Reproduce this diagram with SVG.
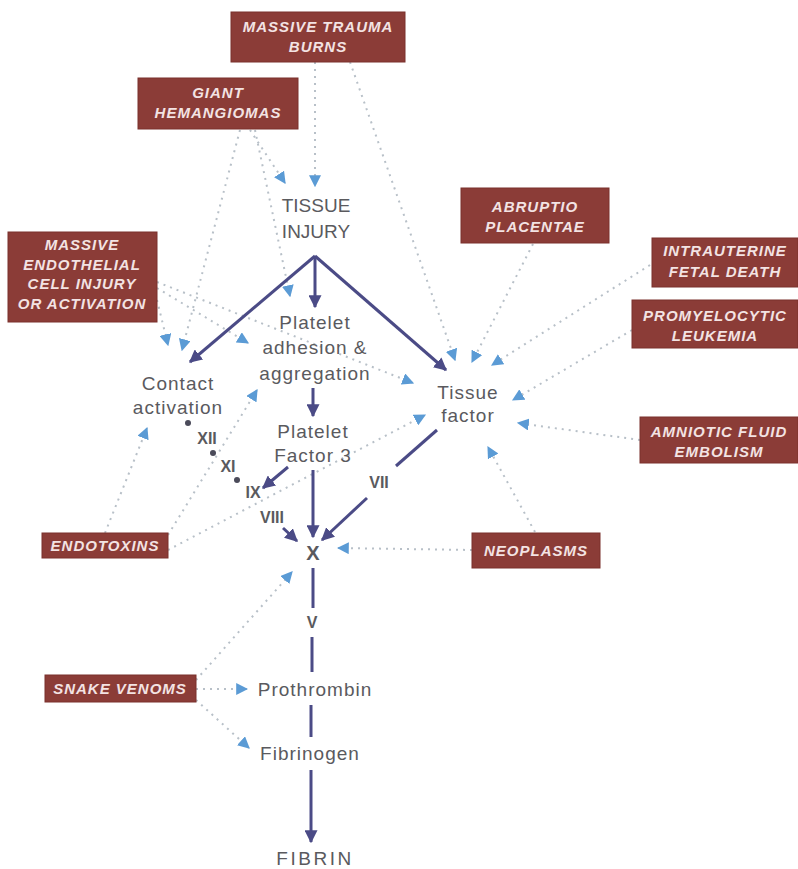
<svg xmlns="http://www.w3.org/2000/svg" width="798" height="869" viewBox="0 0 798 869">
<defs>
<marker id="ab" viewBox="0 0 10 10" refX="9" refY="5" markerWidth="12" markerHeight="12" markerUnits="userSpaceOnUse" orient="auto"><path d="M0,0 L10,5 L0,10 z" fill="#5b9bd5"/></marker>
<marker id="as" viewBox="0 0 10 10" refX="9" refY="5" markerWidth="13" markerHeight="13" markerUnits="userSpaceOnUse" orient="auto"><path d="M0,0 L10,5 L0,10 z" fill="#4b4b86"/></marker>
</defs>
<style>
.box{fill:#8b3c37;stroke:#7a302c;stroke-width:1}
.bt{font-family:"Liberation Sans",Arial,sans-serif;font-style:italic;font-weight:bold;font-size:15px;letter-spacing:1px;fill:#f3e3e3;text-anchor:middle}
.lt{font-family:"Liberation Sans",Arial,sans-serif;font-size:19px;letter-spacing:1px;fill:#5a5a5e;text-anchor:middle}
.ut{font-family:"Liberation Sans",Arial,sans-serif;font-size:19px;fill:#5a5a5e;text-anchor:middle}
.rt{font-family:"Liberation Sans",Arial,sans-serif;font-size:16px;font-weight:bold;fill:#5a5a5e;text-anchor:middle}
.d{fill:none;stroke:#b8c0c8;stroke-width:2;stroke-dasharray:2 5;marker-end:url(#ab)}
.s{fill:none;stroke:#4b4b86;stroke-width:3}
.sa{fill:none;stroke:#4b4b86;stroke-width:3;marker-end:url(#as)}
</style>
<rect width="798" height="869" fill="#ffffff"/>
<g id="connectors">
<path class="d" d="M315,62 L315,186"/>
<path class="d" d="M350,62 L455,360"/>
<path class="d" d="M250,130 L285,183"/>
<path class="d" d="M255,130 L290,296"/>
<path class="d" d="M240,130 L182,350"/>
<path class="d" d="M157,300 L168,345"/>
<path class="d" d="M157,288 L248,343"/>
<path class="d" d="M157,282 L413,383"/>
<path class="d" d="M533,244 L472,362"/>
<path class="d" d="M650,265 L492,365"/>
<path class="d" d="M632,330 L513,400"/>
<path class="d" d="M640,440 L518,423"/>
<path class="d" d="M535,532 L488,447"/>
<path class="d" d="M472,550 L338,548"/>
<path class="d" d="M105,533 L147,428"/>
<path class="d" d="M168,535 L257,390"/>
<path class="d" d="M168,550 L425,415"/>
<path class="d" d="M196,680 L292,572"/>
<path class="d" d="M196,689 L247,689"/>
<path class="d" d="M196,700 L249,748"/>
<path class="sa" d="M315,256 L190,362"/>
<path class="sa" d="M315,256 L315,307"/>
<path class="sa" d="M315,256 L446,370"/>
<path class="sa" d="M313,388 L313,416"/>
<path class="sa" d="M288,467 L263,488"/>
<path class="sa" d="M313,470 L313,537"/>
<path class="s" d="M437,430 L396,466"/>
<path class="sa" d="M367,498 L322,540"/>
<path class="sa" d="M283,528 L297,541"/>
<circle cx="188" cy="423" r="3" fill="#4b4b5a"/>
<circle cx="213" cy="453" r="3" fill="#4b4b5a"/>
<circle cx="237" cy="480" r="3" fill="#4b4b5a"/>
<path class="s" d="M313,568 L313,608"/>
<path class="s" d="M312,637 L312,672"/>
<path class="s" d="M311,705 L311,737"/>
<path class="sa" d="M311,770 L311,842"/>
</g>
<g id="massive-trauma"><rect class="box" x="231" y="12" width="174" height="50"/><text class="bt" x="318" y="32">MASSIVE TRAUMA</text><text class="bt" x="318" y="52">BURNS</text></g>
<g id="giant-hemangiomas"><rect class="box" x="138" y="78" width="160" height="51"/><text class="bt" x="218" y="98">GIANT</text><text class="bt" x="218" y="118">HEMANGIOMAS</text></g>
<g id="endothelial"><rect class="box" x="8" y="232" width="149" height="90"/><text class="bt" x="82" y="250">MASSIVE</text><text class="bt" x="82" y="270">ENDOTHELIAL</text><text class="bt" x="82" y="289">CELL INJURY</text><text class="bt" x="82" y="309">OR ACTIVATION</text></g>
<g id="abruptio"><rect class="box" x="461" y="188" width="148" height="55"/><text class="bt" x="535" y="212">ABRUPTIO</text><text class="bt" x="535" y="232">PLACENTAE</text></g>
<g id="fetal-death"><rect class="box" x="652" y="238" width="146" height="49"/><text class="bt" x="725" y="256">INTRAUTERINE</text><text class="bt" x="725" y="277">FETAL DEATH</text></g>
<g id="promyelocytic"><rect class="box" x="632" y="300" width="166" height="48"/><text class="bt" x="715" y="321">PROMYELOCYTIC</text><text class="bt" x="715" y="341">LEUKEMIA</text></g>
<g id="amniotic"><rect class="box" x="640" y="417" width="158" height="46"/><text class="bt" x="719" y="437">AMNIOTIC FLUID</text><text class="bt" x="719" y="457">EMBOLISM</text></g>
<g id="neoplasms"><rect class="box" x="472" y="533" width="128" height="35"/><text class="bt" x="536" y="556">NEOPLASMS</text></g>
<g id="endotoxins"><rect class="box" x="42" y="533" width="126" height="25"/><text class="bt" x="105" y="551">ENDOTOXINS</text></g>
<g id="snake-venoms"><rect class="box" x="45" y="675" width="151" height="27"/><text class="bt" x="120" y="694">SNAKE VENOMS</text></g>
<g id="tissue-injury"><text class="ut" x="316" y="212">TISSUE</text><text class="ut" x="316" y="238">INJURY</text></g>
<g id="platelet-adhesion"><text class="lt" x="315" y="329">Platelet</text><text class="lt" x="315" y="354">adhesion &amp;</text><text class="lt" x="315" y="380">aggregation</text></g>
<g id="contact-activation"><text class="lt" x="178" y="390">Contact</text><text class="lt" x="178" y="414">activation</text></g>
<g id="tissue-factor"><text class="lt" x="468" y="399">Tissue</text><text class="lt" x="468" y="422">factor</text></g>
<g id="platelet-factor-3"><text class="lt" x="313" y="438">Platelet</text><text class="lt" x="313" y="462">Factor 3</text></g>
<g id="factors">
<text class="rt" x="207" y="444">XII</text>
<text class="rt" x="228" y="472">XI</text>
<text class="rt" x="253" y="498">IX</text>
<text class="rt" x="272" y="523">VIII</text>
<text class="rt" x="379" y="488">VII</text>
<text class="rt" x="313" y="560" style="font-size:20px">X</text>
<text class="rt" x="312" y="628">V</text>
</g>
<g id="prothrombin"><text class="lt" x="315" y="696">Prothrombin</text></g>
<g id="fibrinogen"><text class="lt" x="310" y="760">Fibrinogen</text></g>
<g id="fibrin"><text class="ut" x="315" y="865" style="letter-spacing:2.5px">FIBRIN</text></g>
</svg>
